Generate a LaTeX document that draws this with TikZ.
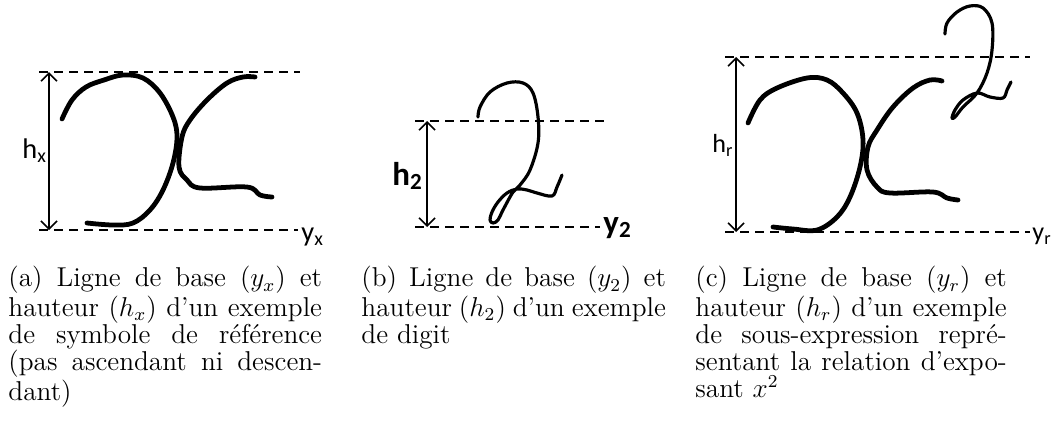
\documentclass[tikz,border=0pt]{standalone}
\usepackage{fontspec}
\usetikzlibrary{arrows.meta}
\newfontfamily\lblfont{Carlito}

\tikzset{
  baseline line/.style={dash pattern=on 4pt off 2.6pt, line width=0.7pt},
  height arrow/.style={{Straight Barb[length=3.5pt,width=7pt]}-{Straight Barb[length=3.5pt,width=7pt]}, line width=0.7pt},
  ink/.style={line width=2.1pt, line cap=round, line join=round},
  thin ink/.style={line width=1.4pt, line cap=round, line join=round},
  lbl/.style={inner sep=0pt, anchor=base west},
  caption/.style={anchor=north west, inner sep=0pt, align=justify, font=\fontsize{12}{11.9}\selectfont},
}

\begin{document}
\begin{tikzpicture}[x=0.44pt,y=-0.44pt]
  \useasboundingbox (0,0) rectangle (1051,427);

  % (a) symbole de reference
  \coordinate (aTopL) at (39,72);   \coordinate (aTopR) at (300,72);
  \coordinate (aBotL) at (39,230);  \coordinate (aBotR) at (298,230);
  \coordinate (aArrTop) at (49,72); \coordinate (aArrBot) at (49,230);
  \draw[baseline line] (aTopL) -- (aTopR);
  \draw[baseline line] (aBotL) -- (aBotR);
  \draw[height arrow] (aArrTop) -- (aArrBot);
  \node[lbl, font=\lblfont\fontsize{12.5}{14}\selectfont] (hx) at (22,158) {h\textsubscript{x}};
  \node[lbl, font=\lblfont\fontsize{12.5}{14}\selectfont] (yx) at (301,241) {y\textsubscript{x}};
  \draw[ink] plot[smooth, tension=0.6] coordinates {(62,119) (72,100) (86,87) (104,80) (123,75) (143,78) (160,93) (173,117) (177,137) (173,163) (163,190) (150,210) (133,223) (113,225) (87,223)};
  \draw[ink] plot[smooth, tension=0.6] coordinates {(255,77) (243,77) (227,83) (207,100) (190,120) (182,137) (179,167) (187,180) (200,188) (247,187) (260,195) (272,197)};

  % (b) digit
  \coordinate (bTopL) at (415,121);  \coordinate (bTopR) at (605,121);
  \coordinate (bBotL) at (415,227);  \coordinate (bBotR) at (600,227);
  \coordinate (bArrTop) at (427,121); \coordinate (bArrBot) at (427,227);
  \draw[baseline line] (bTopL) -- (bTopR);
  \draw[baseline line] (bBotL) -- (bBotR);
  \draw[height arrow] (bArrTop) -- (bArrBot);
  \node[lbl, font=\lblfont\bfseries\fontsize{14.5}{16}\selectfont] (h2) at (392,185) {h\textsubscript{2}};
  \node[lbl, font=\lblfont\bfseries\fontsize{14.5}{16}\selectfont] (y2) at (603,233) {y\textsubscript{2}};
  \draw[thin ink] plot[smooth, tension=0.6] coordinates {(478,117) (480,107) (490,92) (507,83) (523,83) (533,93) (538,117) (538,143) (530,170) (520,185) (513,192) (503,210) (498,220) (493,223) (490,220) (492,212) (498,202) (507,193) (517,189) (527,190) (537,193) (552,196) (557,187) (562,175)};

  % (c) sous-expression x^2
  \coordinate (cTopL) at (725,57);   \coordinate (cTopR) at (1030,57);
  \coordinate (cBotL) at (725,232);  \coordinate (cBotR) at (1030,232);
  \coordinate (cArrTop) at (736,57); \coordinate (cArrBot) at (736,232);
  \draw[baseline line] (cTopL) -- (cTopR);
  \draw[baseline line] (cBotL) -- (cBotR);
  \draw[height arrow] (cArrTop) -- (cArrBot);
  \node[lbl, font=\lblfont\fontsize{11.5}{13}\selectfont] (hr) at (712,152) {h\textsubscript{r}};
  \node[lbl, font=\lblfont\fontsize{11.5}{13}\selectfont] (yr) at (1032,240) {y\textsubscript{r}};
  \draw[ink] plot[smooth, tension=0.6] coordinates {(748,123) (760,100) (777,88) (807,78) (827,80) (843,93) (857,113) (863,140) (860,167) (850,197) (837,217) (817,230) (793,229) (773,227)};
  \draw[ink] plot[smooth, tension=0.6] coordinates {(942,81) (930,80) (913,88) (893,107) (877,130) (868,147) (867,170) (877,187) (890,193) (933,192) (947,198) (958,200)};
  \draw[thin ink] plot[smooth, tension=0.6] coordinates {(945,34) (947,23) (957,12) (970,6) (983,8) (992,23) (992,50) (987,73) (977,93) (963,107) (955,117) (952,118) (955,110) (963,100) (977,93) (990,97) (1003,98) (1007,90) (1011,82)};

  % legendes
  \node[caption, text width=138pt] (capA) at (8,266)
    {(a) Ligne de base ($y_x$) et\linebreak hauteur ($h_x$) d'un exemple\linebreak de symbole de référence\linebreak (pas ascendant ni descen-\linebreak dant)};
  \node[caption, text width=134pt] (capB) at (361,266)
    {(b) Ligne de base ($y_2$) et\linebreak hauteur ($h_2$) d'un exemple\linebreak de digit};
  \node[caption, text width=137pt] (capC) at (695,266)
    {(c) Ligne de base ($y_r$) et\linebreak hauteur ($h_r$) d'un exemple\linebreak de sous-expression repré-\linebreak sentant la relation d'expo-\linebreak sant $x^2$};
\end{tikzpicture}
\end{document}
